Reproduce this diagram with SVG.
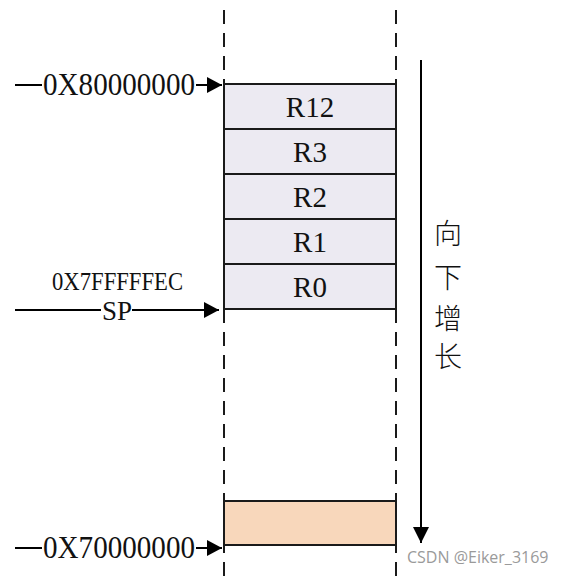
<svg xmlns="http://www.w3.org/2000/svg" width="563" height="578" viewBox="0 0 563 578">
<defs>
<marker id="ah" markerUnits="userSpaceOnUse" markerWidth="16" markerHeight="18" refX="15" refY="8" orient="auto">
<polygon points="0,0 15,8 0,16" fill="#000"/>
</marker>
<marker id="ahd" markerUnits="userSpaceOnUse" markerWidth="18" markerHeight="18" refX="16" refY="8" orient="auto">
<polygon points="0,0 16,8 0,16" fill="#000"/>
</marker>
<style>
.lbl{font-family:"Liberation Serif","Noto Serif",serif;fill:#111;}
.reg{font-size:29px;text-anchor:middle;}
.box{fill:#ECEAF2;stroke:#1a1a1a;stroke-width:2;}
.dash{stroke:#1a1a1a;stroke-width:2;stroke-dasharray:14 9;fill:none;}
.conn{stroke:#000;stroke-width:2;fill:none;}
.cjk{font-family:"Noto Sans CJK SC",sans-serif;font-size:28px;font-weight:300;fill:#111;text-anchor:middle;}
</style>
</defs>
<rect width="563" height="578" fill="#fff"/>
<g id="guides">
<line class="dash" x1="224" y1="10" x2="224" y2="578"/>
<line class="dash" x1="396" y1="10" x2="396" y2="578"/>
</g>
<g id="r12"><rect class="box" x="224" y="84" width="172" height="45"/><text class="lbl reg" x="310" y="117">R12</text></g>
<g id="r3"><rect class="box" x="224" y="129" width="172" height="45"/><text class="lbl reg" x="310" y="162">R3</text></g>
<g id="r2"><rect class="box" x="224" y="174" width="172" height="45"/><text class="lbl reg" x="310" y="207">R2</text></g>
<g id="r1"><rect class="box" x="224" y="219" width="172" height="45"/><text class="lbl reg" x="310" y="252">R1</text></g>
<g id="r0"><rect class="box" x="224" y="264" width="172" height="45"/><text class="lbl reg" x="310" y="297">R0</text></g>
<g id="bottom"><rect x="224" y="501" width="172" height="44" fill="#F8D7BB" stroke="#1a1a1a" stroke-width="2"/></g>
<g id="connectors">
<line class="conn" x1="15" y1="85" x2="42" y2="85"/>
<line class="conn" x1="196" y1="85" x2="222" y2="85" marker-end="url(#ah)"/>
<line class="conn" x1="15" y1="310" x2="101" y2="310"/>
<line class="conn" x1="132" y1="310" x2="219" y2="310" marker-end="url(#ah)"/>
<line class="conn" x1="15" y1="548" x2="42" y2="548"/>
<line class="conn" x1="196" y1="548" x2="222" y2="548" marker-end="url(#ah)"/>
<line class="conn" x1="421" y1="60" x2="421" y2="543" marker-end="url(#ahd)"/>
</g>
<g id="labels">
<text class="lbl" x="43" y="95" font-size="31" textLength="152" lengthAdjust="spacingAndGlyphs">0X80000000</text>
<text class="lbl" x="52" y="290" font-size="25" textLength="131" lengthAdjust="spacingAndGlyphs">0X7FFFFFEC</text>
<text class="lbl" x="102" y="320" font-size="28" textLength="30" lengthAdjust="spacingAndGlyphs">SP</text>
<text class="lbl" x="43" y="558" font-size="31" textLength="152" lengthAdjust="spacingAndGlyphs">0X70000000</text>
</g>
<g id="growth">
<text class="cjk" x="448" y="244">向</text>
<text class="cjk" x="448" y="288">下</text>
<text class="cjk" x="448" y="329">增</text>
<text class="cjk" x="448" y="367">长</text>
</g>
<text x="407" y="563" font-family="'Open Sans','Liberation Sans',sans-serif" font-size="16" fill="#9a9a9a">CSDN @Eiker_3169</text>
</svg>
